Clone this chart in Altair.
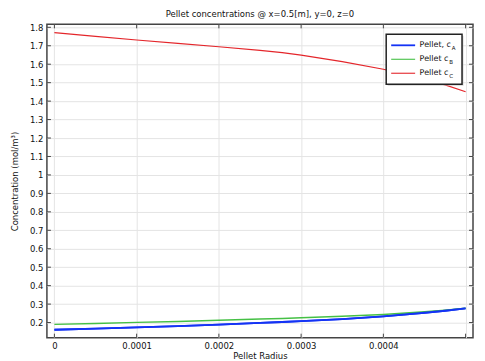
import altair as alt
import pandas as pd

# ---- data ----
radius = [0, 0.00005, 0.0001, 0.00015, 0.0002, 0.00025, 0.000277, 0.0003,
          0.00035, 0.0004, 0.00045, 0.000475, 0.0005]
c_A = [0.161, 0.167, 0.174, 0.181, 0.189, 0.198, 0.203, 0.208,
       0.219, 0.234, 0.253, 0.264, 0.277]
c_B = [0.190, 0.195, 0.201, 0.206, 0.212, 0.219, 0.222, 0.226,
       0.234, 0.244, 0.258, 0.267, 0.278]
c_C = [1.771, 1.751, 1.731, 1.713, 1.695, 1.675, 1.663, 1.649,
       1.614, 1.573, 1.517, 1.488, 1.451]

series_names = ["Pellet, cA", "Pellet cB", "Pellet cC"]
series_main = ["Pellet, c", "Pellet c", "Pellet c"]
series_sub = ["A", "B", "C"]
series_colors = ["#1433f5", "#45c045", "#e4262b"]
series_widths = [1.8, 1.1, 1.1]

x_ticks = [0, 0.0001, 0.0002, 0.0003, 0.0004, 0.0005]
y_ticks = [0.2, 0.3, 0.4, 0.5, 0.6, 0.7, 0.8, 0.9, 1.0, 1.1, 1.2, 1.3,
           1.4, 1.5, 1.6, 1.7, 1.8]

W, H = 427, 314
FONT = "DejaVu Sans"

x_scale = alt.Scale(domain=[-0.0000091, 0.000509], nice=False, zero=False)
y_scale = alt.Scale(domain=[0.118, 1.816], nice=False, zero=False)

rows = []
for name, vals in zip(series_names, [c_A, c_B, c_C]):
    for r, v in zip(radius, vals):
        rows.append({"r": r, "c": v, "series": name})
df = pd.DataFrame(rows)

x_axis = alt.Axis(values=x_ticks, title="Pellet Radius", grid=True,
                  ticks=False, domain=False, labelPadding=4,
                  labelExpr="datum.value > 0.00045 ? '' : format(datum.value, '~g')",
                  titlePadding=1)
y_axis = alt.Axis(values=y_ticks, title="Concentration (mol/m³)", grid=True,
                  ticks=False, domain=False, labelPadding=4,
                  format="~g", titlePadding=10)

X = lambda: alt.X("r:Q", scale=x_scale, axis=x_axis)
Y = lambda: alt.Y("c:Q", scale=y_scale, axis=y_axis)

layers = []
# inward ticks on all four sides
xt = pd.DataFrame({"r": x_ticks})
yt = pd.DataFrame({"c": y_ticks})
tick_col = "#444"
layers.append(alt.Chart(xt).mark_rule(color=tick_col, strokeWidth=1).encode(
    x=X(), y=alt.value(H - 4), y2=alt.value(H)))
layers.append(alt.Chart(xt).mark_rule(color=tick_col, strokeWidth=1).encode(
    x=X(), y=alt.value(0), y2=alt.value(4)))
layers.append(alt.Chart(yt).mark_rule(color=tick_col, strokeWidth=1).encode(
    y=Y(), x=alt.value(0), x2=alt.value(4)))
layers.append(alt.Chart(yt).mark_rule(color=tick_col, strokeWidth=1).encode(
    y=Y(), x=alt.value(W - 4), x2=alt.value(W)))

layers.append(
    alt.Chart(df).mark_line(clip=True).encode(
        x=X(), y=Y(),
        color=alt.Color("series:N", scale=alt.Scale(domain=series_names, range=series_colors), legend=None),
        strokeWidth=alt.StrokeWidth("series:N", scale=alt.Scale(domain=series_names, range=series_widths), legend=None),
        detail="series:N",
        order="r:Q",
    )
)
# blue on top
layers.append(
    alt.Chart(df).transform_filter(alt.datum.series == series_names[0]).mark_line(
        clip=True, color=series_colors[0], strokeWidth=series_widths[0]).encode(
        x=X(), y=Y(), order="r:Q")
)

# custom legend with subscripts
one = pd.DataFrame({"k": [0]})
lx0, lx1, ly0, ly1 = 340, 416, 10, 60
layers.append(alt.Chart(one).mark_rect(fill="#bbbbbb", opacity=0.6).encode(
    x=alt.value(lx0 + 1.5), x2=alt.value(lx1 + 1.5), y=alt.value(ly0 + 1.5), y2=alt.value(ly1 + 1.5)))
layers.append(alt.Chart(one).mark_rect(fill="white", stroke="#222", strokeWidth=1.5).encode(
    x=alt.value(lx0), x2=alt.value(lx1), y=alt.value(ly0), y2=alt.value(ly1)))
row_y = [21, 35, 49]
for i in range(3):
    yy = row_y[i]
    layers.append(alt.Chart(one).mark_rule(color=series_colors[i], strokeWidth=series_widths[i]).encode(
        x=alt.value(345), x2=alt.value(369), y=alt.value(yy)))
    layers.append(alt.Chart(one).mark_text(text=series_main[i], font=FONT, fontSize=8,
                                           align="left", baseline="middle", color="#111").encode(
        x=alt.value(373.5), y=alt.value(yy)))
    sub_x = 373.5 + (32.3 if i == 0 else 29.7)
    layers.append(alt.Chart(one).mark_text(text=series_sub[i], font=FONT, fontSize=5.5,
                                           align="left", baseline="middle", color="#111").encode(
        x=alt.value(sub_x), y=alt.value(yy + 2.5)))

chart = alt.layer(*layers).properties(
    width=W, height=H,
    title=alt.TitleParams("Pellet concentrations @ x=0.5[m], y=0, z=0",
                          font=FONT, fontSize=8.5, fontWeight="normal",
                          color="#111", offset=5, anchor="middle"),
    autosize=alt.AutoSizeParams(type="none"),
    padding={"left": 39, "top": 16, "right": 4, "bottom": 30},
).configure_view(
    stroke="#444", strokeWidth=1.5
).configure_axis(
    labelFont=FONT, labelFontSize=8.5, labelColor="#111",
    titleFont=FONT, titleFontSize=8.5, titleFontWeight="normal", titleColor="#111",
    gridColor="#e4e4e4", gridWidth=1
)

chart.save("out.html", embed_options={"renderer": "svg", "actions": False})
